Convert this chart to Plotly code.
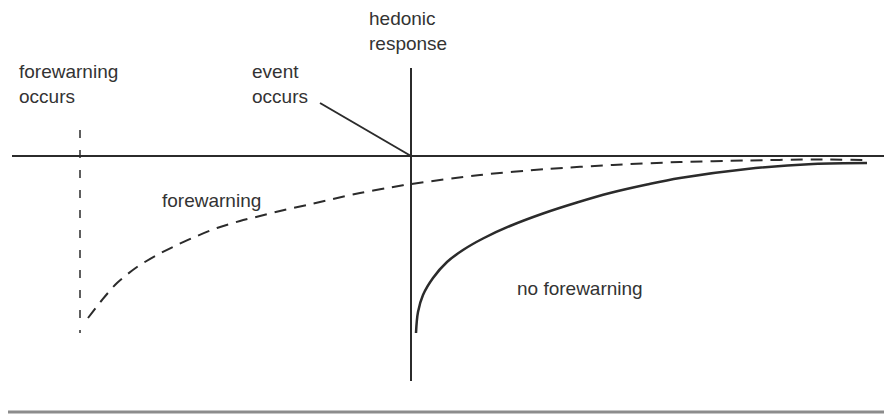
"""
Hedonic response over time, with and without forewarning
"""

import plotly.graph_objects as go

# time relative to the event (event occurs at t = 0)
forewarning_t = [-323, -309, -294, -274, -254, -234, -214, -194, -171, -151, -131,
                 -104, -78, -51, -24, 0, 69, 136, 202, 269, 336, 402, 456]
forewarning_resp = [-162, -144, -127, -111, -99, -89, -80, -72, -65, -60, -55,
                    -49, -43, -37, -32, -28, -19, -13, -9, -6, -4.5, -3.5, -4]

no_forewarning_t = [5, 7, 12, 22, 36, 52, 72, 99, 132, 166, 199, 236, 269, 336, 402, 456]
no_forewarning_resp = [-177, -156, -139, -122, -106, -94, -82.5, -70, -57.5, -46.5,
                       -37, -28.5, -22, -13, -8, -7]

# moment the forewarning is given
forewarning_time = -331

INK = '#2b2b2b'
FONT = dict(family='Liberation Sans, Arial, sans-serif', size=19, color='#333333')

fig = go.Figure()

fig.add_trace(go.Scatter(
    x=forewarning_t, y=forewarning_resp,
    mode='lines',
    line=dict(color=INK, width=2, dash='12px,8px', shape='spline', smoothing=0.8),
    hoverinfo='skip', showlegend=False
))

fig.add_trace(go.Scatter(
    x=no_forewarning_t, y=no_forewarning_resp,
    mode='lines',
    line=dict(color=INK, width=2.5, shape='spline', smoothing=1),
    hoverinfo='skip', showlegend=False
))

shapes = [
    # time axis
    dict(type='line', xref='x', yref='y', x0=-399, x1=481, y0=0, y1=0,
         line=dict(color=INK, width=2)),
    # hedonic response axis
    dict(type='line', xref='x', yref='y', x0=0, x1=0, y0=88, y1=-225,
         line=dict(color=INK, width=2)),
    # pointer from "event occurs"
    dict(type='line', xref='x', yref='y', x0=-91, x1=0, y0=53, y1=0,
         line=dict(color=INK, width=2)),
    # forewarning moment
    dict(type='line', xref='x', yref='y', x0=forewarning_time, x1=forewarning_time,
         y0=26, y1=-177, line=dict(color=INK, width=1.5, dash='8px,12px')),
    # rule at the bottom
    dict(type='line', xref='paper', yref='y', x0=0, x1=1, y0=-256, y1=-256,
         line=dict(color='#8c8c8c', width=3)),
]

annotations = [
    dict(x=-44, y=125, text='hedonic<br>response', align='left'),
    dict(x=-394, y=72, text='forewarning<br>occurs', align='left'),
    dict(x=-161, y=72, text='event<br>occurs', align='left'),
    dict(x=-251, y=-44, text='forewarning'),
    dict(x=104, y=-132, text='no forewarning'),
]
for a in annotations:
    a.update(xref='x', yref='y', xanchor='left', yanchor='middle',
             showarrow=False, font=FONT)

# the page body adds an 8px margin, so the figure is 8px smaller
fig.update_layout(
    width=884, height=406,
    margin=dict(l=0, r=0, t=0, b=0),
    paper_bgcolor='white', plot_bgcolor='white',
    xaxis=dict(range=[-403, 481], visible=False, fixedrange=True),
    yaxis=dict(range=[-258, 148], visible=False, fixedrange=True),
    shapes=shapes, annotations=annotations,
    showlegend=False
)

fig.write_html("out.html")
